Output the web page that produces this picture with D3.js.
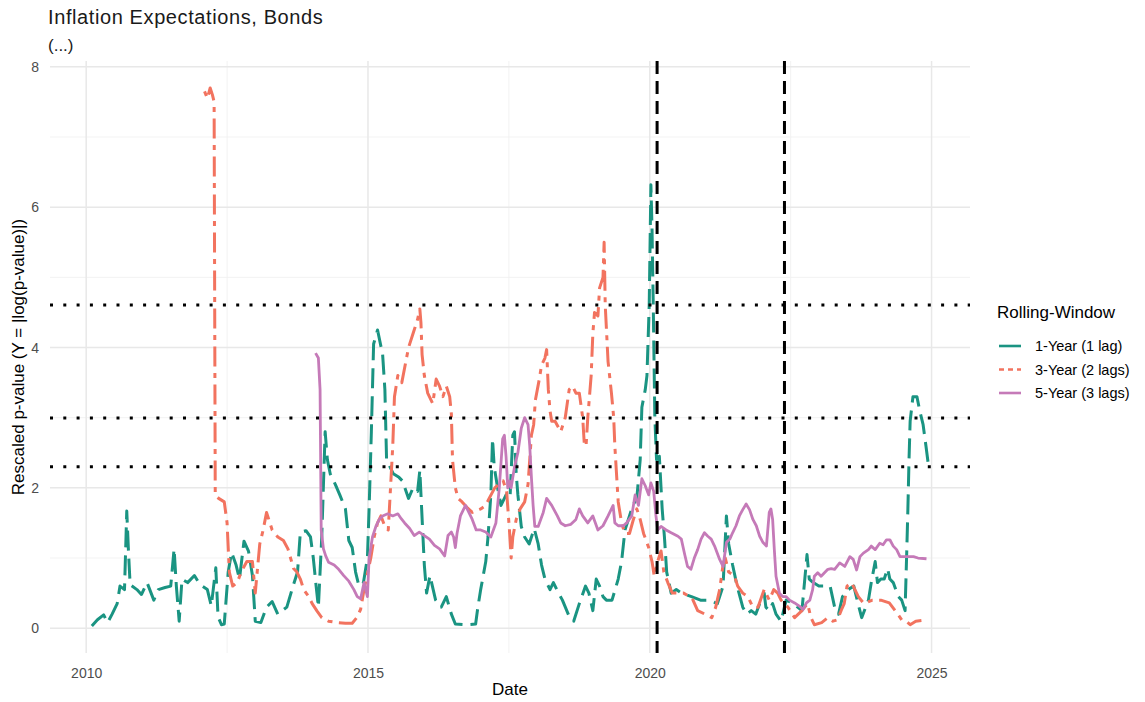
<!DOCTYPE html>
<html>
<head>
<meta charset="utf-8">
<script src="https://cdn.jsdelivr.net/npm/d3@7"></script>
<style>
  html, body { margin: 0; padding: 0; background: #ffffff; }
  svg { display: block; font-family: "Liberation Sans", Arial, sans-serif; }
</style>
</head>
<body>
<svg id="chart" width="1145" height="702"></svg>
<script>
// Rolling-window Granger p-values, rescaled as |log(p)|, by decimal year.
const oneYear = [
  [2010.10,0.03],[2010.20,0.12],[2010.31,0.19],[2010.38,0.08],[2010.46,0.20],[2010.55,0.35],
  [2010.60,0.60],[2010.68,0.55],[2010.72,1.67],[2010.75,1.10],[2010.78,0.62],[2010.90,0.55],
  [2010.98,0.48],[2011.08,0.65],[2011.20,0.40],[2011.28,0.55],[2011.40,0.58],[2011.50,0.60],
  [2011.56,1.13],[2011.60,0.60],[2011.65,0.10],[2011.70,0.70],[2011.80,0.65],[2011.92,0.75],
  [2012.02,0.62],[2012.15,0.55],[2012.22,0.32],[2012.30,0.86],[2012.34,0.16],[2012.40,0.05],
  [2012.45,0.06],[2012.52,0.80],[2012.58,1.08],[2012.66,0.90],[2012.72,0.70],[2012.80,1.24],
  [2012.88,1.10],[2012.95,0.75],[2013.00,0.10],[2013.10,0.08],[2013.20,0.30],[2013.30,0.38],
  [2013.40,0.20],[2013.56,0.30],[2013.67,0.60],[2013.75,0.80],[2013.80,1.37],[2013.90,1.39],
  [2013.98,1.30],[2014.03,1.00],[2014.08,0.60],[2014.12,0.30],[2014.18,1.30],[2014.24,2.80],
  [2014.28,2.40],[2014.33,2.20],[2014.42,2.05],[2014.50,1.90],[2014.60,1.70],[2014.66,1.25],
  [2014.72,1.15],[2014.78,0.80],[2014.84,0.60],[2014.92,0.65],[2014.99,1.00],[2015.02,1.70],
  [2015.06,2.80],[2015.10,4.05],[2015.17,4.25],[2015.26,3.90],[2015.30,3.40],[2015.33,2.40],
  [2015.45,2.20],[2015.55,2.15],[2015.61,2.10],[2015.72,1.85],[2015.80,2.00],[2015.88,1.95],
  [2015.92,2.25],[2015.97,1.40],[2016.00,0.90],[2016.04,0.50],[2016.10,0.75],[2016.20,0.40],
  [2016.30,0.30],[2016.39,0.45],[2016.48,0.20],[2016.55,0.06],[2016.75,0.05],[2016.91,0.06],
  [2016.95,0.30],[2017.00,0.55],[2017.09,0.95],[2017.13,1.30],[2017.18,1.90],[2017.21,2.70],
  [2017.24,2.30],[2017.30,2.00],[2017.36,1.75],[2017.45,1.90],[2017.52,1.85],[2017.57,2.75],
  [2017.60,2.80],[2017.63,2.20],[2017.66,1.90],[2017.72,1.45],[2017.78,1.30],[2017.86,1.20],
  [2017.95,1.42],[2018.02,1.20],[2018.08,0.90],[2018.14,0.70],[2018.23,0.55],[2018.29,0.65],
  [2018.38,0.50],[2018.45,0.40],[2018.58,0.15],[2018.65,0.10],[2018.75,0.35],[2018.86,0.60],
  [2018.92,0.50],[2018.99,0.25],[2019.05,0.70],[2019.11,0.60],[2019.17,0.45],[2019.23,0.40],
  [2019.33,0.40],[2019.44,0.70],[2019.50,0.95],[2019.56,1.40],[2019.62,1.55],[2019.70,1.75],
  [2019.77,1.85],[2019.83,2.40],[2019.86,3.15],[2019.92,3.40],[2019.95,3.60],[2019.99,4.60],
  [2020.02,6.32],[2020.04,5.70],[2020.06,4.70],[2020.09,3.00],[2020.12,2.40],[2020.17,2.45],
  [2020.22,1.70],[2020.26,1.30],[2020.30,0.80],[2020.38,0.50],[2020.47,0.55],[2020.56,0.50],
  [2020.74,0.45],[2020.90,0.40],[2021.05,0.40],[2021.20,0.35],[2021.30,0.60],[2021.36,1.60],
  [2021.40,1.20],[2021.47,0.90],[2021.55,0.60],[2021.65,0.30],[2021.72,0.20],[2021.80,0.25],
  [2021.88,0.20],[2021.95,0.35],[2022.03,0.50],[2022.06,0.30],[2022.12,0.25],[2022.18,0.35],
  [2022.24,0.20],[2022.33,0.10],[2022.42,0.40],[2022.55,0.35],[2022.70,0.25],[2022.79,1.05],
  [2022.83,0.70],[2022.90,0.65],[2023.00,0.60],[2023.10,0.60],[2023.20,0.60],[2023.28,0.30],
  [2023.35,0.20],[2023.42,0.45],[2023.52,0.55],[2023.62,0.60],[2023.68,0.40],[2023.76,0.15],
  [2023.88,0.40],[2023.93,0.65],[2024.00,0.95],[2024.04,0.65],[2024.10,0.70],[2024.16,0.70],
  [2024.22,0.85],[2024.26,0.70],[2024.32,0.65],[2024.41,0.45],[2024.47,0.40],[2024.53,0.25],
  [2024.56,1.10],[2024.58,1.70],[2024.60,2.40],[2024.62,2.95],[2024.67,3.30],[2024.74,3.30],
  [2024.79,3.10],[2024.85,2.90],[2024.90,2.60],[2024.94,2.35]
];

const threeYear = [
  [2012.10,7.65],[2012.15,7.55],[2012.20,7.70],[2012.24,7.60],[2012.27,7.50],[2012.29,1.90],
  [2012.35,1.85],[2012.45,1.80],[2012.50,1.50],[2012.54,0.80],[2012.60,0.60],[2012.68,0.65],
  [2012.75,0.80],[2012.85,0.95],[2012.95,0.95],[2013.00,0.50],[2013.04,0.85],[2013.08,1.20],
  [2013.14,1.40],[2013.20,1.65],[2013.30,1.40],[2013.40,1.30],[2013.50,1.25],[2013.58,1.13],
  [2013.68,0.85],[2013.74,0.80],[2013.80,0.70],[2013.86,0.55],[2013.95,0.45],[2014.01,0.35],
  [2014.10,0.24],[2014.18,0.15],[2014.30,0.10],[2014.45,0.08],[2014.60,0.07],[2014.72,0.07],
  [2014.80,0.15],[2014.87,0.27],[2014.93,0.55],[2015.05,1.00],[2015.11,1.30],[2015.17,1.50],
  [2015.23,1.60],[2015.30,1.45],[2015.36,1.40],[2015.40,2.00],[2015.44,2.60],[2015.47,3.30],
  [2015.53,3.60],[2015.60,3.50],[2015.72,4.00],[2015.80,4.20],[2015.88,4.40],[2015.92,4.55],
  [2015.94,4.35],[2015.96,3.90],[2016.00,3.60],[2016.06,3.35],[2016.15,3.20],[2016.21,3.55],
  [2016.27,3.45],[2016.33,3.30],[2016.39,3.45],[2016.45,3.30],[2016.48,3.05],[2016.50,2.40],
  [2016.55,2.00],[2016.60,1.85],[2016.67,1.80],[2016.76,1.72],[2016.85,1.65],[2017.00,1.70],
  [2017.09,1.75],[2017.15,1.85],[2017.25,2.00],[2017.32,2.05],[2017.40,2.10],[2017.46,1.95],
  [2017.51,1.40],[2017.54,1.00],[2017.57,1.30],[2017.63,1.55],[2017.70,1.70],[2017.78,1.80],
  [2017.84,2.05],[2017.90,2.75],[2017.94,2.90],[2017.97,3.25],[2018.04,3.55],[2018.08,3.75],
  [2018.14,3.85],[2018.17,3.97],[2018.20,3.40],[2018.23,3.10],[2018.26,2.95],[2018.32,2.95],
  [2018.42,2.80],[2018.50,3.00],[2018.57,3.40],[2018.63,3.45],[2018.69,3.35],[2018.75,3.35],
  [2018.81,3.00],[2018.84,2.60],[2018.87,2.60],[2018.90,3.00],[2018.96,3.60],[2018.99,4.20],
  [2019.02,4.50],[2019.08,4.45],[2019.11,4.85],[2019.17,5.00],[2019.19,5.50],[2019.21,4.60],
  [2019.26,3.80],[2019.32,3.35],[2019.36,3.00],[2019.38,2.60],[2019.41,2.20],[2019.44,1.80],
  [2019.50,1.50],[2019.56,1.35],[2019.64,1.35],[2019.71,1.55],[2019.77,1.70],[2019.83,1.55],
  [2019.89,1.35],[2019.98,1.15],[2020.04,0.95],[2020.08,0.74],[2020.14,0.95],[2020.20,1.10],
  [2020.25,0.80],[2020.32,0.65],[2020.40,0.50],[2020.60,0.50],[2020.75,0.43],[2020.85,0.25],
  [2020.98,0.20],[2021.10,0.15],[2021.17,0.30],[2021.24,0.55],[2021.30,0.90],[2021.34,1.00],
  [2021.40,0.80],[2021.50,0.75],[2021.56,0.60],[2021.65,0.50],[2021.74,0.45],[2021.83,0.30],
  [2021.92,0.30],[2022.03,0.55],[2022.12,0.40],[2022.20,0.55],[2022.27,0.50],[2022.33,0.40],
  [2022.45,0.30],[2022.57,0.15],[2022.70,0.25],[2022.80,0.35],[2022.86,0.15],[2022.92,0.05],
  [2023.05,0.08],[2023.16,0.15],[2023.25,0.10],[2023.33,0.12],[2023.40,0.26],[2023.45,0.35],
  [2023.50,0.60],[2023.58,0.65],[2023.70,0.45],[2023.80,0.35],[2023.95,0.40],[2024.10,0.40],
  [2024.25,0.36],[2024.40,0.20],[2024.47,0.12],[2024.55,0.10],[2024.62,0.05],[2024.72,0.10],
  [2024.82,0.11]
];

const fiveYear = [
  [2014.07,3.92],[2014.12,3.85],[2014.15,3.40],[2014.17,1.40],[2014.21,1.13],[2014.25,1.03],
  [2014.30,0.94],[2014.40,0.90],[2014.48,0.84],[2014.57,0.75],[2014.66,0.67],[2014.75,0.55],
  [2014.81,0.45],[2014.87,0.42],[2014.93,0.65],[2014.99,0.45],[2015.02,1.00],[2015.08,1.30],
  [2015.14,1.45],[2015.20,1.55],[2015.26,1.60],[2015.35,1.63],[2015.44,1.60],[2015.53,1.63],
  [2015.59,1.56],[2015.65,1.50],[2015.74,1.42],[2015.82,1.32],[2015.91,1.37],[2016.00,1.32],
  [2016.09,1.27],[2016.18,1.18],[2016.27,1.13],[2016.36,1.03],[2016.42,1.32],[2016.48,1.37],
  [2016.52,1.30],[2016.55,1.15],[2016.58,1.35],[2016.64,1.60],[2016.73,1.75],[2016.79,1.65],
  [2016.85,1.55],[2016.92,1.40],[2017.00,1.40],[2017.09,1.37],[2017.18,1.30],[2017.27,1.50],
  [2017.33,2.00],[2017.39,2.70],[2017.42,2.75],[2017.45,2.45],[2017.48,2.00],[2017.51,2.10],
  [2017.54,2.00],[2017.60,2.30],[2017.66,2.50],[2017.72,2.85],[2017.78,3.00],[2017.84,2.90],
  [2017.87,2.60],[2017.90,2.15],[2017.93,1.75],[2017.96,1.45],[2018.02,1.45],[2018.11,1.65],
  [2018.17,1.85],[2018.26,1.75],[2018.36,1.60],[2018.42,1.50],[2018.50,1.46],[2018.60,1.48],
  [2018.69,1.55],[2018.75,1.70],[2018.81,1.60],[2018.90,1.50],[2018.99,1.60],[2019.08,1.40],
  [2019.17,1.46],[2019.26,1.60],[2019.35,1.75],[2019.38,1.50],[2019.44,1.46],[2019.53,1.46],
  [2019.59,1.50],[2019.68,1.60],[2019.74,1.90],[2019.80,1.75],[2019.86,2.13],[2019.92,2.03],
  [2019.98,1.90],[2020.02,2.07],[2020.07,1.95],[2020.11,1.60],[2020.14,1.40],[2020.20,1.45],
  [2020.29,1.40],[2020.38,1.36],[2020.50,1.31],[2020.56,1.27],[2020.62,1.05],[2020.67,0.88],
  [2020.73,0.84],[2020.79,1.00],[2020.85,1.12],[2020.91,1.27],[2020.97,1.36],[2021.03,1.31],
  [2021.09,1.27],[2021.15,1.17],[2021.24,0.98],[2021.30,0.88],[2021.36,1.22],[2021.42,1.27],
  [2021.47,1.36],[2021.53,1.46],[2021.59,1.60],[2021.65,1.69],[2021.71,1.77],[2021.77,1.69],
  [2021.83,1.55],[2021.89,1.46],[2021.95,1.31],[2022.01,1.22],[2022.07,1.17],[2022.12,1.65],
  [2022.15,1.70],[2022.18,1.55],[2022.21,1.12],[2022.24,0.74],[2022.30,0.50],[2022.36,0.45],
  [2022.42,0.45],[2022.48,0.40],[2022.57,0.36],[2022.66,0.31],[2022.72,0.27],[2022.78,0.36],
  [2022.84,0.40],[2022.89,0.55],[2022.92,0.74],[2022.98,0.79],[2023.04,0.74],[2023.10,0.79],
  [2023.16,0.84],[2023.22,0.85],[2023.28,0.84],[2023.37,0.93],[2023.46,0.88],[2023.55,1.02],
  [2023.61,0.98],[2023.67,0.83],[2023.73,1.02],[2023.79,1.07],[2023.88,1.12],[2023.93,1.17],
  [2024.00,1.12],[2024.08,1.21],[2024.14,1.19],[2024.20,1.26],[2024.26,1.26],[2024.32,1.17],
  [2024.38,1.12],[2024.44,1.02],[2024.52,1.02],[2024.59,1.02],[2024.68,1.02],[2024.76,1.00],
  [2024.91,0.99]
];

const seriesNames = ["1-Year (1 lag)", "3-Year (2 lags)", "5-Year (3 lags)"];
const xTicks = [2010, 2015, 2020, 2025];
const xMinor = [2012.5, 2017.5, 2022.5];
const yTicks = [0, 2, 4, 6, 8];
const yMinor = [1, 3, 5, 7];
// significance levels drawn as |log(p)|
const pLevels = [0.01, 0.05, 0.1];
// event dates (decimal years)
const eventDates = [2020.13, 2022.39];

const styles = [
  { color: "#1a9482", width: 3.0, dash: "20,8" },
  { color: "#f2735f", width: 3.0, dash: "5,6.5,20,6.5" },
  { color: "#c57ab8", width: 2.8, dash: null }
];

const svg = d3.select("#chart");
const panel = { left: 50, right: 970, top: 61, bottom: 653 };

const allSeries = [oneYear, threeYear, fiveYear];
const allPts = allSeries.flat();
const xExt = d3.extent(allPts, d => d[0]);
const yExt = d3.extent(allPts, d => d[1]);
const xPad = (xExt[1] - xExt[0]) * 0.05;
const yPad = (yExt[1] - yExt[0]) * 0.05;

const x = d3.scaleLinear().domain([xExt[0] - xPad, xExt[1] + xPad]).range([panel.left, panel.right]);
const y = d3.scaleLinear().domain([yExt[0] - yPad, yExt[1] + yPad]).range([panel.bottom, panel.top]);

// grid
const grid = svg.append("g");
grid.selectAll(".ymin").data(yMinor).join("line")
  .attr("x1", panel.left).attr("x2", panel.right)
  .attr("y1", d => y(d)).attr("y2", d => y(d))
  .attr("stroke", "#f0f0f0").attr("stroke-width", 0.9);
grid.selectAll(".xmin").data(xMinor).join("line")
  .attr("y1", panel.top).attr("y2", panel.bottom)
  .attr("x1", d => x(d)).attr("x2", d => x(d))
  .attr("stroke", "#f0f0f0").attr("stroke-width", 0.9);
grid.selectAll(".ymaj").data(yTicks).join("line")
  .attr("x1", panel.left).attr("x2", panel.right)
  .attr("y1", d => y(d)).attr("y2", d => y(d))
  .attr("stroke", "#e8e8e8").attr("stroke-width", 1.5);
grid.selectAll(".xmaj").data(xTicks).join("line")
  .attr("y1", panel.top).attr("y2", panel.bottom)
  .attr("x1", d => x(d)).attr("x2", d => x(d))
  .attr("stroke", "#e8e8e8").attr("stroke-width", 1.5);

// axes (labels only, minimal theme)
const xAxis = svg.append("g")
  .attr("transform", `translate(0,${panel.bottom})`)
  .call(d3.axisBottom(x).tickValues(xTicks).tickFormat(d3.format("d")).tickSize(0).tickPadding(15));
const yAxis = svg.append("g")
  .attr("transform", `translate(${panel.left},0)`)
  .call(d3.axisLeft(y).tickValues(yTicks).tickFormat(d3.format("d")).tickSize(0).tickPadding(11));
[xAxis, yAxis].forEach(a => {
  a.select(".domain").remove();
  a.selectAll("text").attr("fill", "#4d4d4d").style("font-size", "14px")
    .style("font-family", "'Liberation Sans', Arial, sans-serif");
});

// series
const line = d3.line().x(d => x(d[0])).y(d => y(d[1])).curve(d3.curveLinear);
const lines = svg.append("g").attr("fill", "none");
allSeries.forEach((s, i) => {
  lines.append("path")
    .attr("d", line(s))
    .attr("stroke", styles[i].color)
    .attr("stroke-width", styles[i].width)
    .attr("stroke-dasharray", styles[i].dash)
    .attr("stroke-linejoin", "round");
});

// significance thresholds
svg.append("g").selectAll("line").data(pLevels).join("line")
  .attr("x1", panel.left).attr("x2", panel.right)
  .attr("y1", d => y(-Math.log(d))).attr("y2", d => y(-Math.log(d)))
  .attr("stroke", "#000").attr("stroke-width", 3)
  .attr("stroke-dasharray", "3,10.3");

// event markers
svg.append("g").selectAll("line").data(eventDates).join("line")
  .attr("x1", d => x(d)).attr("x2", d => x(d))
  .attr("y1", panel.top).attr("y2", panel.bottom)
  .attr("stroke", "#000").attr("stroke-width", 3)
  .attr("stroke-dasharray", "13,7");

// titles
svg.append("text").attr("x", 48).attr("y", 24)
  .style("font-size", "20px").style("letter-spacing", "0.6px")
  .attr("fill", "#1a1a1a").text("Inflation Expectations, Bonds");
svg.append("text").attr("x", 48).attr("y", 51)
  .style("font-size", "17px").attr("fill", "#1a1a1a").text("(...)");
svg.append("text").attr("x", (panel.left + panel.right) / 2).attr("y", 695)
  .attr("text-anchor", "middle").style("font-size", "17px").attr("fill", "#000").text("Date");
svg.append("text")
  .attr("transform", `translate(24,${(panel.top + panel.bottom) / 2}) rotate(-90)`)
  .attr("text-anchor", "middle").style("font-size", "17px").attr("fill", "#000")
  .text("Rescaled p-value (Y = |log(p-value)|)");

// legend
const legend = svg.append("g");
legend.append("text").attr("x", 997).attr("y", 318)
  .style("font-size", "17px").attr("fill", "#000").text("Rolling-Window");
const legendDash = [null, "5,4", null];
seriesNames.forEach((name, i) => {
  const ly = 346 + i * 23.5;
  legend.append("line").attr("x1", 999).attr("x2", 1021).attr("y1", ly).attr("y2", ly)
    .attr("stroke", styles[i].color).attr("stroke-width", 2.6)
    .attr("stroke-dasharray", legendDash[i]);
  legend.append("text").attr("x", 1035).attr("y", ly + 5)
    .style("font-size", "14.5px").attr("fill", "#000").text(name);
});
</script>
</body>
</html>
